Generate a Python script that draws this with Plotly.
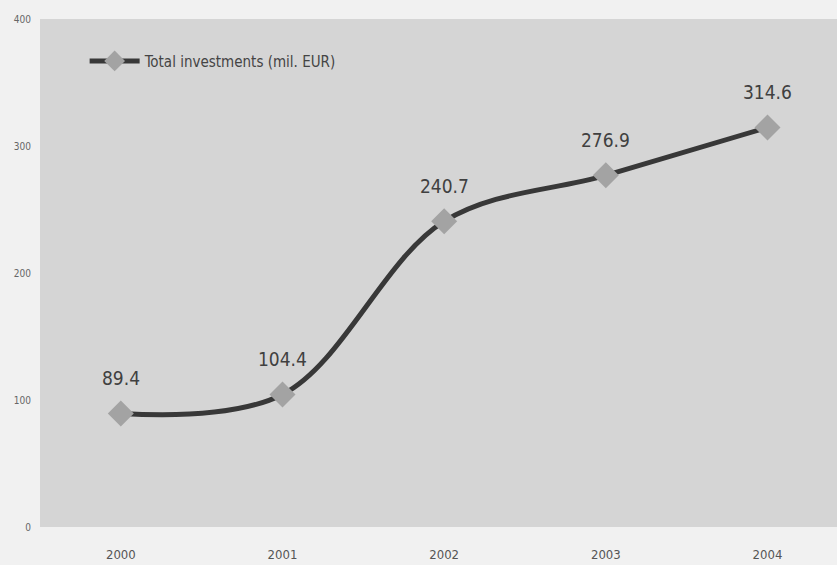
import plotly.graph_objects as go

years = ["2000", "2001", "2002", "2003", "2004"]
investments = [89.4, 104.4, 240.7, 276.9, 314.6]
y_ticks = [0, 100, 200, 300, 400]

NARROW = "DejaVu Sans Condensed, Liberation Sans Narrow, Arial Narrow, sans-serif"

fig = go.Figure()
fig.add_trace(go.Scatter(
    x=years,
    y=investments,
    mode="lines+markers",
    name="Total investments (mil. EUR)",
    line=dict(color="#383838", width=5, shape="spline", smoothing=1.0),
    marker=dict(symbol="diamond", size=20, color="#a3a3a3",
                line=dict(width=0)),
))

# value labels above each point
for i, v in enumerate(investments):
    fig.add_annotation(
        x=i, y=v, xref="x", yref="y", text=f"{v:.1f}", showarrow=False,
        yshift=35, font=dict(family=NARROW, size=19, color="#404040"),
    )

fig.update_layout(
    width=837, height=565,
    margin=dict(l=40, r=0, t=19, b=38),
    paper_bgcolor="#f1f1f1",
    plot_bgcolor="#d5d5d5",
    showlegend=True,
    legend=dict(
        x=0.056, y=0.917, xanchor="left", yanchor="middle",
        bgcolor="rgba(0,0,0,0)",
        font=dict(family=NARROW, size=15, color="#444444"),
        itemwidth=50,
    ),
    xaxis=dict(
        type="category", range=[-0.5, 4.43],
        showgrid=False, zeroline=False, showline=False,
        ticks="", ticklabelstandoff=18,
        tickfont=dict(family=NARROW, size=13, color="#555555"),
    ),
    yaxis=dict(
        range=[0, 400], tickvals=y_ticks,
        showgrid=False, zeroline=False, showline=False,
        ticks="", ticklabelstandoff=8,
        tickfont=dict(family=NARROW, size=10, color="#666666"),
    ),
)

fig.write_html("out.html")
